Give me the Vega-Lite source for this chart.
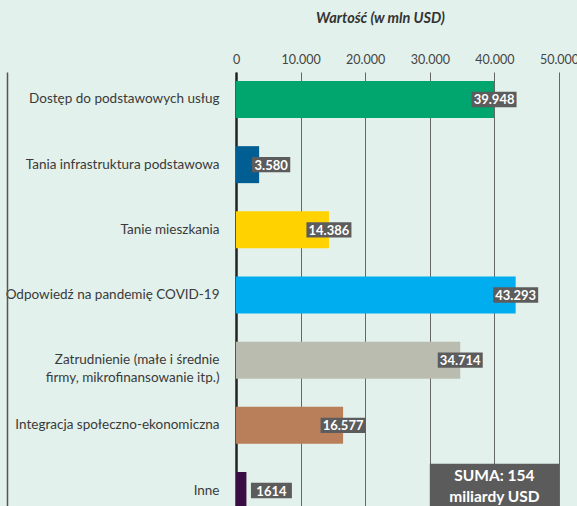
{
  "$schema": "https://vega.github.io/schema/vega-lite/v6.json",
  "width": 323,
  "height": 434,
  "autosize": {"type": "none"},
  "padding": {"left": 236, "top": 72, "right": 18, "bottom": 0},
  "background": "#E2F1EB",
  "config": {"view": {"stroke": null}},
  "data": {
    "values": [
      {"category": "Dostęp do podstawowych usług", "value": 39948, "label": "39.948"},
      {"category": "Tania infrastruktura podstawowa", "value": 3580, "label": "3.580"},
      {"category": "Tanie mieszkania", "value": 14386, "label": "14.386"},
      {"category": "Odpowiedź na pandemię COVID-19", "value": 43293, "label": "43.293"},
      {"category": "Zatrudnienie (małe i średnie firmy, mikrofinansowanie itp.)", "value": 34714, "label": "34.714"},
      {"category": "Integracja społeczno-ekonomiczna", "value": 16577, "label": "16.577"},
      {"category": "Inne", "value": 1614, "label": "1614"}
    ]
  },
  "resolve": {"axis": {"y": "independent"}},
  "layer": [
    {
      "mark": {"type": "bar", "opacity": 1},
      "encoding": {
        "y": {
          "field": "category", "type": "nominal",
          "scale": {
            "domain": ["Dostęp do podstawowych usług", "Tania infrastruktura podstawowa", "Tanie mieszkania", "Odpowiedź na pandemię COVID-19", "Zatrudnienie (małe i średnie firmy, mikrofinansowanie itp.)", "Integracja społeczno-ekonomiczna", "Inne"],
            "range": [0, 446], "paddingInner": 0.4325, "paddingOuter": 0.138
          },
          "axis": {
            "title": null, "ticks": false, "domain": true, "domainColor": "#222", "domainWidth": 2.5, "grid": false,
            "labelPadding": 17, "labelFont": "Lato", "labelFontSize": 13.5, "labelColor": "#3a3a3a",
            "labelLimit": 400, "labelLineHeight": 18,
            "labelExpr": "datum.value == 'Zatrudnienie (małe i średnie firmy, mikrofinansowanie itp.)' ? ['Zatrudnienie (małe i średnie', 'firmy, mikrofinansowanie itp.)'] : datum.value"
          }
        },
        "x": {
          "field": "value", "type": "quantitative",
          "scale": {"domain": [0, 50000], "nice": false},
          "axis": {
            "orient": "top", "values": [0, 10000, 20000, 30000, 40000, 50000],
            "labelExpr": "datum.value === 0 ? '0' : replace(format(datum.value, ','), ',', '.')",
            "labelFont": "Lato", "labelFontSize": 12.5, "labelColor": "#444", "labelPadding": 6,
            "labelFlush": false, "labelOverlap": false, "labelBound": false,
            "ticks": false, "domain": false,
            "grid": true, "gridColor": "#666", "gridWidth": 1, "gridOpacity": 1,
            "title": "Wartość (w mln USD)", "titleFont": "Lato", "titleFontStyle": "italic", "titleFontWeight": "bold",
            "titleFontSize": 14.5, "titleColor": "#333", "titleX": 144, "titleY": -54, "titleAlign": "center", "titleBaseline": "middle", "titleAngle": 0
          }
        },
        "color": {
          "field": "category", "type": "nominal", "legend": null,
          "scale": {
            "domain": ["Dostęp do podstawowych usług", "Tania infrastruktura podstawowa", "Tanie mieszkania", "Odpowiedź na pandemię COVID-19", "Zatrudnienie (małe i średnie firmy, mikrofinansowanie itp.)", "Integracja społeczno-ekonomiczna", "Inne"],
            "range": ["#00A66E", "#005E92", "#FFD200", "#00AEEF", "#BBBCB0", "#B97F5B", "#3B0D45"]
          }
        }
      }
    },
    {
      "transform": [{"filter": "datum.category == 'Inne'"}],
      "mark": {"type": "bar", "color": "#5b5b5b", "height": {"band": 1.45}},
      "encoding": {
        "y": {"datum": "Inne", "type": "nominal", "axis": null},
        "x": {"datum": 30000, "type": "quantitative"},
        "x2": {"datum": 50000}
      }
    },
    {
      "transform": [{"filter": "datum.value >= 5000"}],
      "mark": {"type": "point", "filled": true, "color": "#5c5c5c", "opacity": 1, "size": 2025, "strokeWidth": 0,
        "shape": "M-1,-0.34H1V0.34H-1Z"},
      "encoding": {
        "y": {"field": "category", "type": "nominal",
          "axis": {"orient": "left", "offset": 229, "labels": false, "ticks": false, "domain": true, "domainColor": "#555", "domainWidth": 1.5, "title": null, "grid": false}},
        "x": {"field": "value", "type": "quantitative"}
      }
    },
    {
      "transform": [{"filter": "datum.value >= 2000 && datum.value < 5000"}],
      "mark": {"type": "point", "filled": true, "color": "#5c5c5c", "opacity": 1, "size": 2025, "strokeWidth": 0,
        "shape": "M-0.85,-0.34H0.85V0.34H-0.85Z", "xOffset": 12},
      "encoding": {
        "y": {"field": "category", "type": "nominal", "axis": null},
        "x": {"field": "value", "type": "quantitative"}
      }
    },
    {
      "transform": [{"filter": "datum.value < 2000"}],
      "mark": {"type": "point", "filled": true, "color": "#5c5c5c", "opacity": 1, "size": 2025, "strokeWidth": 0,
        "shape": "M-0.91,-0.34H0.91V0.34H-0.91Z", "xOffset": 25},
      "encoding": {
        "y": {"field": "category", "type": "nominal", "axis": null},
        "x": {"field": "value", "type": "quantitative"}
      }
    },
    {
      "transform": [{"filter": "datum.value >= 5000"}],
      "mark": {"type": "text", "font": "Lato", "fontWeight": "bold", "fontSize": 13, "color": "white", "align": "center", "baseline": "middle", "dy": 1},
      "encoding": {
        "y": {"field": "category", "type": "nominal", "axis": null},
        "x": {"field": "value", "type": "quantitative"},
        "text": {"field": "label"}
      }
    },
    {
      "transform": [{"filter": "datum.value >= 2000 && datum.value < 5000"}],
      "mark": {"type": "text", "font": "Lato", "fontWeight": "bold", "fontSize": 13, "color": "white", "align": "center", "baseline": "middle", "dy": 1, "xOffset": 12},
      "encoding": {
        "y": {"field": "category", "type": "nominal", "axis": null},
        "x": {"field": "value", "type": "quantitative"},
        "text": {"field": "label"}
      }
    },
    {
      "transform": [{"filter": "datum.value < 2000"}],
      "mark": {"type": "text", "font": "Lato", "fontWeight": "bold", "fontSize": 13, "color": "white", "align": "center", "baseline": "middle", "dy": 1, "xOffset": 25},
      "encoding": {
        "y": {"field": "category", "type": "nominal", "axis": null},
        "x": {"field": "value", "type": "quantitative"},
        "text": {"field": "label"}
      }
    },
    {
      "transform": [{"filter": "datum.category == 'Inne'"}],
      "mark": {"type": "text", "font": "Lato", "fontWeight": "bold", "fontSize": 15.5, "color": "white", "align": "center", "baseline": "middle", "lineHeight": 21, "dy": -15,
        "text": ["SUMA: 154", "miliardy USD"]},
      "encoding": {
        "y": {"datum": "Inne", "type": "nominal", "axis": null},
        "x": {"datum": 40000, "type": "quantitative"}
      }
    }
  ]
}
